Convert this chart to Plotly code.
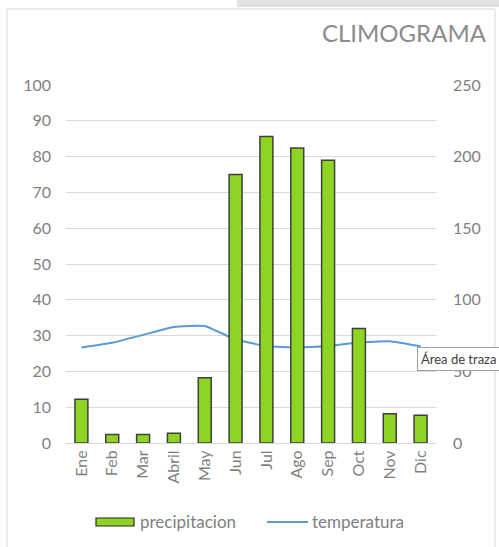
import plotly.graph_objects as go

meses = ["Ene", "Feb", "Mar", "Abril", "May", "Jun", "Jul", "Ago", "Sep", "Oct", "Nov", "Dic"]
precipitacion = [30.5, 5.9, 5.9, 6.8, 45.5, 187.5, 214, 206, 197.5, 80, 20.5, 19.3]
temperatura = [26.7, 28.0, 30.2, 32.4, 32.7, 28.9, 27.1, 26.7, 27.1, 28.1, 28.4, 27.0]
left_ticks = [0, 10, 20, 30, 40, 50, 60, 70, 80, 90, 100]
right_ticks = [0, 50, 100, 150, 200, 250]

W, H = 499, 547
L, R, T, B = 66, 63, 85, 104
PW, PH = W - L - R, H - T - B
FONT = "Lato, 'Open Sans', sans-serif"
GRAY = "#7f7f7f"
BAR_COLOR = "#8ED523"
LINE_COLOR = "#5B9BD5"


def px_x(x):
    return (x - L) / PW


def px_y(y):
    return (H - B - y) / PH


fig = go.Figure()
fig.add_trace(go.Scatter(
    x=meses, y=temperatura, name="temperatura", mode="lines",
    line=dict(color=LINE_COLOR, width=2, shape="spline", smoothing=0.4),
    yaxis="y", showlegend=False,
))
fig.add_trace(go.Bar(
    x=meses, y=precipitacion, name="precipitacion",
    marker=dict(color=BAR_COLOR, line=dict(color="#3f3f3f", width=1.5)),
    width=0.42, yaxis="y2", showlegend=False,
))

shapes = [
    # chart frame
    dict(type="rect", xref="paper", yref="paper",
         x0=px_x(7), x1=px_x(495), y0=px_y(560), y1=px_y(9),
         line=dict(color="#d9d9d9", width=1), layer="below"),
    # gray bar top right
    dict(type="rect", xref="paper", yref="paper",
         x0=px_x(237), x1=px_x(W), y0=px_y(7), y1=px_y(0),
         fillcolor="#e1e1e1", line=dict(width=0), layer="below"),
    # legend swatches
    dict(type="rect", xref="paper", yref="paper",
         x0=px_x(96), x1=px_x(134), y0=px_y(526), y1=px_y(518),
         fillcolor=BAR_COLOR, line=dict(color="#262626", width=1.2)),
    dict(type="line", xref="paper", yref="paper",
         x0=px_x(267), x1=px_x(308), y0=px_y(522), y1=px_y(522),
         line=dict(color=LINE_COLOR, width=2)),
]

annotations = [
    dict(text="CLIMOGRAMA", xref="paper", yref="paper",
         x=px_x(489), y=px_y(32), xanchor="right", yanchor="middle", showarrow=False,
         font=dict(size=24, color="#8c8c8c", family=FONT)),
    dict(text="precipitacion", xref="paper", yref="paper",
         x=px_x(138), y=px_y(521), xanchor="left", yanchor="middle", showarrow=False,
         font=dict(size=17, color=GRAY, family=FONT)),
    dict(text="temperatura", xref="paper", yref="paper",
         x=px_x(310), y=px_y(521), xanchor="left", yanchor="middle", showarrow=False,
         font=dict(size=17, color=GRAY, family=FONT)),
    dict(text="Área de traza", xref="paper", yref="paper",
         x=px_x(417), y=px_y(359), xanchor="left", yanchor="middle", showarrow=False,
         bgcolor="white", bordercolor="#a0a0a0", borderwidth=1, borderpad=3,
         font=dict(size=13, color="#404040", family=FONT)),
]

fig.update_layout(
    width=W, height=H,
    margin=dict(l=L, r=R, t=T, b=B, autoexpand=False),
    paper_bgcolor="white", plot_bgcolor="white",
    font=dict(family=FONT, color=GRAY, size=16),
    showlegend=False,
    xaxis=dict(type="category", tickangle=-90, showgrid=False,
               showline=True, linecolor="#d9d9d9", linewidth=1,
               ticks="", tickfont=dict(size=16, color=GRAY)),
    yaxis=dict(range=[0, 100], tickvals=left_ticks, showgrid=True,
               gridcolor="#d9d9d9", gridwidth=1, zeroline=False,
               ticklabelstandoff=14, tickfont=dict(size=16, color=GRAY)),
    yaxis2=dict(range=[0, 250], tickvals=right_ticks, overlaying="y", side="right",
                showgrid=False, zeroline=False, ticklabelstandoff=16,
                tickfont=dict(size=16, color=GRAY)),
    shapes=shapes,
    annotations=annotations,
)

fig.write_html("out.html", config={"displayModeBar": False},
               post_script="document.body.style.margin='0';document.body.style.overflow='hidden';")
